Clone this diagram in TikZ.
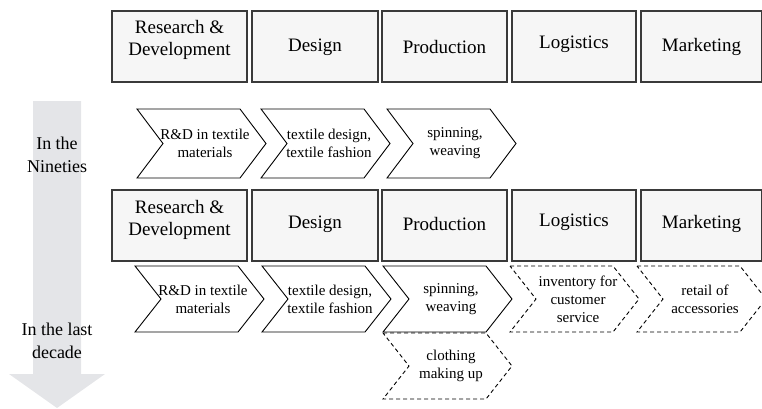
\documentclass[tikz,border=0pt]{standalone}
\usepackage{fontspec}
\setmainfont{Liberation Serif}
\definecolor{boxfill}{HTML}{F6F6F6}
\definecolor{boxline}{HTML}{3A3A3A}
\definecolor{timegrey}{HTML}{E4E5E8}
% chevron: #1 name, #2 left x, #3 top y, #4 bottom y, #5 line style, #6 text
\newcommand\vcchev[6]{%
  \draw[chevline,#5] (#2,#3) -- (#2+103,#3) -- (#2+129,{(#3+#4)/2})
    -- (#2+103,#4) -- (#2,#4) -- (#2+26,{(#3+#4)/2}) -- cycle;
  \node[chevtext] (#1) at (#2+68,{(#3+#4)/2}) {#6};
}
\tikzset{
  stagebox/.style={draw=boxline, fill=boxfill, line width=1.2pt, inner sep=0pt,
    align=center, font=\fontsize{19}{22}\selectfont},
  stagetext/.style={inner sep=0pt, align=center, font=\fontsize{19}{22}\selectfont},
  chevline/.style={line width=0.9pt, line join=miter},
  planned/.style={dash pattern=on 4pt off 3pt},
  chevtext/.style={align=center, inner sep=0pt, font=\fontsize{15}{18}\selectfont},
  eralabel/.style={align=center, inner sep=0pt, font=\fontsize{18}{23}\selectfont},
}
\begin{document}
\begin{tikzpicture}[x=1pt, y=-1pt]
\useasboundingbox (0,0) rectangle (762,408);

% time arrow
\fill[timegrey] (33,101) -- (81,101) -- (81,374) -- (105,374) -- (57,408)
  -- (9,374) -- (33,374) -- cycle;
\node[eralabel] (nineties) at (57,155) {In the\\Nineties};
\node[eralabel] (lastdecade) at (57,341) {In the last\\decade};

% value chain, first period
\foreach \xa/\xb in {112/247, 252/378, 382/507, 512/636, 641/762}{
  \draw[stagebox] (\xa,11) rectangle (\xb,82);
}
\node[stagetext] (rd1) at (179.5,40) {Research \&\\Development};
\node[stagetext] (de1) at (315,47) {Design};
\node[stagetext] (pr1) at (444.5,47) {Production};
\node[stagetext] (lo1) at (574,44) {Logistics};
\node[stagetext] (ma1) at (701.5,47) {Marketing};

\vcchev{c1}{137}{109}{178}{}{R\&D in textile\\materials}
\vcchev{c2}{261}{109}{178}{}{textile design,\\textile fashion}
\vcchev{c3}{387}{109}{178}{}{spinning,\\weaving}

% value chain, second period
\foreach \xa/\xb in {112/247, 252/378, 382/507, 512/636, 641/762}{
  \draw[stagebox] (\xa,190) rectangle (\xb,261);
}
\node[stagetext] (rd2) at (179.5,220) {Research \&\\Development};
\node[stagetext] (de2) at (315,224) {Design};
\node[stagetext] (pr2) at (444.5,224) {Production};
\node[stagetext] (lo2) at (574,222) {Logistics};
\node[stagetext] (ma2) at (701.5,224) {Marketing};

\vcchev{d1}{135}{266}{332}{}{R\&D in textile\\materials}
\vcchev{d2}{262}{266}{332}{}{textile design,\\textile fashion}
\vcchev{d3}{383}{266}{332}{}{spinning,\\weaving}
\vcchev{d4}{510}{266}{332}{planned}{inventory for\\customer\\service}
\vcchev{d5}{637}{266}{332}{planned}{retail of\\accessories}
\vcchev{d6}{383}{333}{399}{planned}{clothing\\making up}
\end{tikzpicture}
\end{document}
